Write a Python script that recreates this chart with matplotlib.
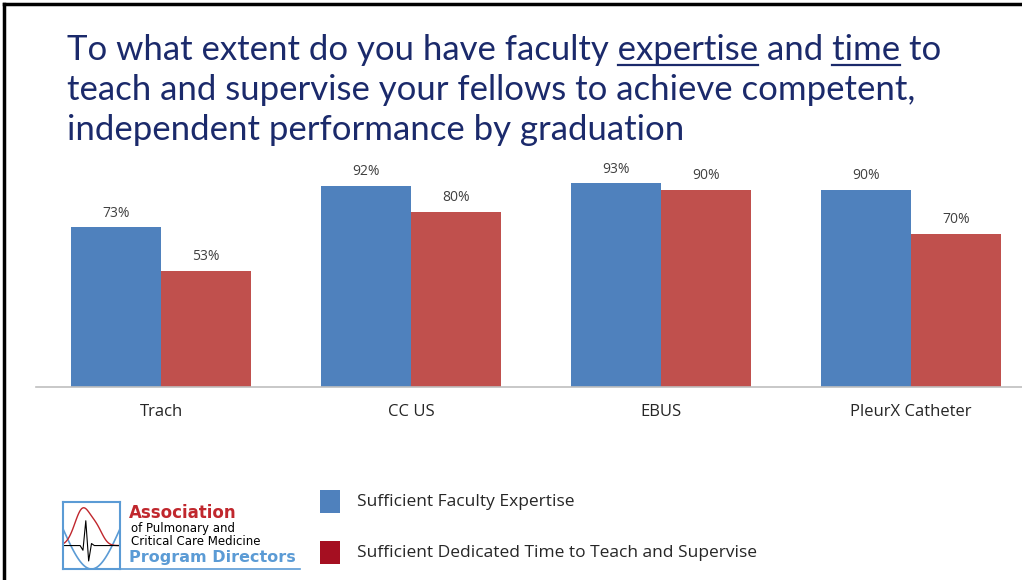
import numpy as np
import matplotlib.pyplot as plt
from matplotlib.lines import Line2D
from matplotlib.patches import Rectangle

categories = ['Trach', 'CC US', 'EBUS', 'PleurX Catheter']
expertise = [0.73, 0.92, 0.93, 0.90]
dedicated_time = [0.53, 0.80, 0.90, 0.70]
series_names = ['Sufficient Faculty Expertise',
                'Sufficient Dedicated Time to Teach and Supervise']

blue = '#4F81BD'
red = '#C0504D'
legend_red = '#A50F21'
navy = '#1B2A6B'

W, H = 1022, 580
fig = plt.figure(figsize=(W / 100, H / 100), dpi=100)
fig.patch.set_facecolor('white')

def fx(px):
    return px / W

def fy(py):
    return 1 - py / H

# slide frame
fig.add_artist(Line2D([fx(4), 1], [fy(4), fy(4)], color='black', lw=2.5))
fig.add_artist(Line2D([fx(4), fx(4)], [fy(4), 0], color='black', lw=2.5))

# chart
ax = fig.add_axes([fx(36), fy(387), fx(1000), fy(168) - fy(387)])
x = np.arange(len(categories))
w = 0.36
b1 = ax.bar(x - w / 2, expertise, w, color=blue)
b2 = ax.bar(x + w / 2, dedicated_time, w, color=red)
for bars, vals in ((b1, expertise), (b2, dedicated_time)):
    for r, v in zip(bars, vals):
        ax.text(r.get_x() + r.get_width() / 2, v + 0.03, f'{v:.0%}',
                ha='center', va='bottom', fontsize=10, color='#404040',
                family='Open Sans')
ax.set_xlim(-0.5, len(categories) - 0.5)
ax.set_ylim(0, 1)
ax.set_yticks([])
ax.set_xticks(x)
ax.set_xticklabels(categories, fontsize=12, color='#262626', family='Open Sans')
ax.tick_params(axis='x', length=0, pad=12)
for s in ('top', 'right', 'left'):
    ax.spines[s].set_visible(False)
ax.spines['bottom'].set_color('#BFBFBF')
ax.spines['bottom'].set_linewidth(1.2)
ax.patch.set_alpha(0)

# title with underlined words
title_lines = ['To what extent do you have faculty expertise and time to',
               'teach and supervise your fellows to achieve competent,',
               'independent performance by graduation']
underlined = ['expertise', 'time']
tx0 = fx(67)
baselines = [60, 100, 140]
tkw = dict(fontsize=25, color=navy, family='Lato', va='baseline', ha='left')
for line, by in zip(title_lines, baselines):
    fig.text(tx0, fy(by), line, **tkw)

fig.canvas.draw()
renderer = fig.canvas.get_renderer()
first = title_lines[0]
for word in underlined:
    i = first.index(word)
    tmp = fig.text(tx0, fy(baselines[0]), first[:i], **tkw)
    x_start = tmp.get_window_extent(renderer).x1
    tmp.remove()
    tmp = fig.text(tx0, fy(baselines[0]), first[:i + len(word)], **tkw)
    x_end = tmp.get_window_extent(renderer).x1
    tmp.remove()
    fig.add_artist(Line2D([x_start / W, x_end / W], [fy(baselines[0] + 5)] * 2,
                          color=navy, lw=1.6))

# legend
for k, (name, col) in enumerate(zip(series_names, [blue, legend_red])):
    top = 490 + 51 * k
    fig.add_artist(Rectangle((fx(320), fy(top + 23)), fx(20), fy(top) - fy(top + 23),
                             facecolor=col, edgecolor='none'))
    fig.text(fx(357), fy(top + 12), name, fontsize=12.5, color='#262626',
             family='Open Sans', va='center', ha='left')

# logo
logo_blue = '#5B9BD5'
lax = fig.add_axes([fx(63), fy(569), fx(57), fy(502) - fy(569)])
lax.set_xlim(0, 1)
lax.set_ylim(0, 1)
lax.set_xticks([])
lax.set_yticks([])
for s in lax.spines.values():
    s.set_color(logo_blue)
    s.set_linewidth(1.5)
t = np.linspace(0, 1, 100)
lax.plot(t, 0.6 - 0.6 * np.sin(np.pi * t), color=logo_blue, lw=1.2)
lax.plot(t, 0.35 + 0.55 * np.exp(-((t - 0.35) / 0.2) ** 2)
         + 0.2 * np.exp(-((t - 0.6) / 0.15) ** 2), color='#C0272D', lw=1)
ecg_x = [0.0, 0.3, 0.35, 0.4, 0.45, 0.5, 0.55, 1.0]
ecg_y = [0.35, 0.35, 0.28, 0.72, 0.12, 0.38, 0.35, 0.35]
lax.plot(ecg_x, ecg_y, color='black', lw=0.8)
fig.add_artist(Line2D([fx(63), fx(300)], [fy(569), fy(569)], color=logo_blue, lw=1.2))
fig.text(fx(129), fy(518), 'Association', fontsize=12, weight='bold',
         color='#C0272D', family='DejaVu Sans')
fig.text(fx(131), fy(532), 'of Pulmonary and', fontsize=8.5, color='black',
         family='DejaVu Sans')
fig.text(fx(131), fy(545), 'Critical Care Medicine', fontsize=8.5, color='black',
         family='DejaVu Sans')
fig.text(fx(129), fy(562), 'Program Directors', fontsize=11.5, weight='bold',
         color=logo_blue, family='DejaVu Sans')

fig.savefig('out.png', dpi=100)
